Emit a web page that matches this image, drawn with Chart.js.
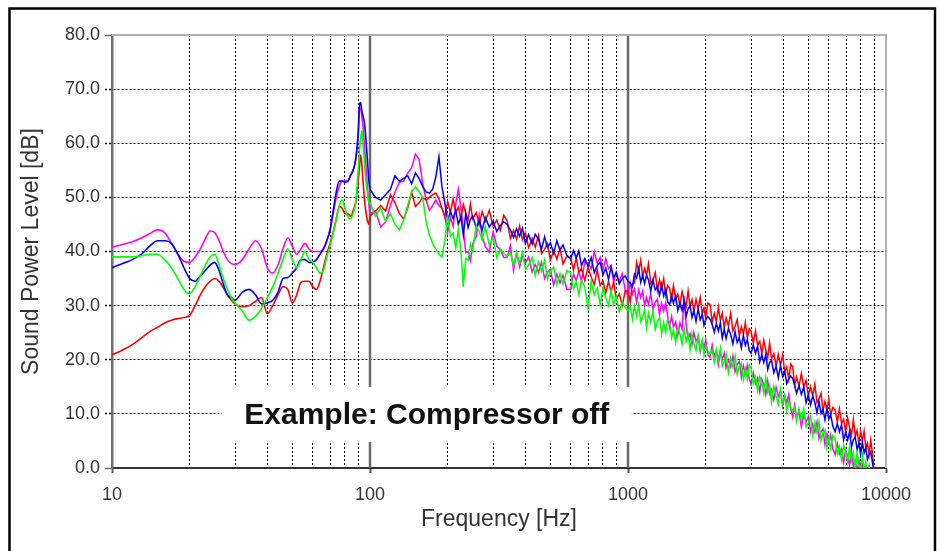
<!DOCTYPE html>
<html>
<head>
<meta charset="utf-8">
<title>Sound Power Level</title>
<script src="https://cdn.jsdelivr.net/npm/chart.js@4.4.1/dist/chart.umd.min.js"></script>
<style>
  html, body { margin: 0; padding: 0; background: #fff; }
  canvas { display: block; }
</style>
</head>
<body>
<canvas id="myChart" width="940" height="551"></canvas>
<script>
'use strict';
// data, one row of the freqs array per line

const freqs = [
  10, 11, 12, 13, 14, 15, 16, 17, 18, 19,
  20, 21, 22, 23, 24, 25, 26, 27, 28, 29,
  30, 32, 34, 36, 38, 40, 42, 44, 46, 48,
  50, 52, 54, 56, 58, 60, 62, 64, 66, 68,
  70, 72, 74, 76, 78, 80, 82, 84, 86, 88,
  90, 91, 92, 93, 94, 95, 96, 97, 98, 99,
  100, 105, 110, 115, 120, 125, 130, 135, 140, 145,
  150, 155, 160, 165, 170, 175, 180, 185, 190, 195,
  200, 205, 210, 215, 220, 225, 230, 235, 240, 245, 250, 258, 265, 272, 280, 290, 300, 310, 320, 330,
  340, 350, 360, 370, 380, 390, 400, 412, 425, 437, 450, 462, 475, 487, 500, 515, 530, 545, 560, 580,
  600, 615, 630, 645, 660, 680, 700, 720, 740, 760, 780, 800, 820, 840, 860, 880, 900, 925, 950, 975,
  1000, 1020, 1040, 1060, 1080, 1100, 1120, 1140, 1160, 1180, 1200, 1225, 1250, 1275, 1300, 1325, 1350, 1375, 1400, 1425,
  1450, 1475, 1500, 1530, 1560, 1590, 1620, 1650, 1680, 1710, 1740, 1770, 1800, 1835, 1870, 1905, 1940, 1970, 2000, 2040,
  2080, 2120, 2160, 2200, 2240, 2280, 2320, 2360, 2400, 2450, 2500, 2550, 2600, 2650, 2700, 2750, 2800, 2850, 2900, 2950,
  3000, 3060, 3120, 3180, 3240, 3300, 3360, 3420, 3480, 3540, 3600, 3675, 3750, 3825, 3900, 3975, 4050, 4125, 4200, 4275,
  4350, 4425, 4500, 4600, 4700, 4800, 4900, 5000, 5100, 5200, 5300, 5400, 5500, 5600, 5700, 5800, 5900, 6000, 6100, 6225,
  6350, 6475, 6600, 6725, 6850, 6975, 7100, 7225, 7350, 7475, 7600, 7725, 7850, 7975, 8100, 8225, 8350, 8475, 8600, 8725,
  8850, 9000
];

const magentaDb = [
  40.8, 41.3, 41.8, 42.5, 43.3, 44, 43.5, 41.5, 39.5, 38.2,
  38, 39, 40.5, 42.3, 43.8, 43.5, 42, 40, 38.5, 37.8,
  37.6, 38.5, 40.5, 42, 40.5, 37, 36, 37.5, 40.5, 42.5,
  41, 39.5, 40.5, 41.5, 40.5, 40, 40, 40, 40.5, 42,
  44, 47, 50, 52, 53, 53, 53, 54, 55, 57,
  61, 66, 66.5, 65, 63, 60, 57, 54, 51, 49,
  47, 47.5, 44.5, 45.5, 48.5, 51, 52.8, 53, 54.5, 55.5,
  58, 57, 52.6, 49.5, 47.6, 48.5, 49.5, 48.5, 48, 46.5,
  43.5, 46.3, 44.6, 48.8, 51.5, 48.1, 44.3, 39.8, 40.0, 38.3, 41.4, 42.7, 46.7, 42.8, 40.9, 39.9, 43.7, 41.0, 40.4, 38.9,
  38.9, 41.1, 36.5, 39.8, 37.1, 39.3, 37.9, 39.0, 36.2, 37.6, 36.1, 38.0, 35.0, 36.2, 36.7, 33.8, 35.8, 34.2, 35.6, 33.0,
  33.0, 35.8, 34.6, 36.3, 34.5, 38.1, 37.8, 36.8, 40.0, 37.8, 38.9, 36.7, 38.7, 36.8, 37.4, 34.4, 36.2, 34.5, 35.9, 32.9,
  31.9, 34.2, 32.1, 33.1, 30.6, 32.9, 31.5, 32.7, 30.0, 31.5, 30.2, 32.2, 29.3, 30.6, 31.2, 28.3, 30.4, 29.0, 30.5, 28.0,
  26.0, 28.0, 26.1, 27.0, 24.5, 26.8, 25.7, 31.8, 26.4, 23.9, 24.8, 22.8, 25.0, 23.4, 24.2, 21.5, 23.5, 22.0, 23.7, 20.9,
  20.4, 22.7, 20.6, 21.6, 19.1, 21.4, 20.0, 21.2, 18.5, 20.0, 18.7, 20.7, 17.8, 19.1, 19.7, 16.8, 18.9, 17.5, 19.0, 16.5,
  15.5, 17.6, 15.6, 16.6, 14.1, 16.4, 15.4, 13.6, 16.1, 13.7, 14.5, 12.6, 14.9, 13.2, 14.1, 11.4, 13.4, 12.0, 13.6, 10.9,
  9.4, 11.6, 9.4, 10.3, 7.6, 9.8, 8.4, 9.5, 6.7, 8.1, 6.6, 8.5, 5.5, 6.7, 7.2, 4.3, 6.3, 4.7, 6.1, 3.5,
  2.5, 4.5, 2.6, 3.5, 1.0, 3.3, 2.2, 0.5, 2.9, 0.4, 1.3, -0.7, 1.5, -0.1, 0.7, -2.1, 0, -1.5, 0.2, -2.6,
  -3, -4
];

const blueDb = [
  37, 37.8, 38.5, 39.5, 41, 42, 42, 41.5, 39.5, 37,
  35, 34.5, 35.5, 36.5, 37.5, 38, 36.5, 34, 32, 31.5,
  31, 32.5, 33, 32, 30.3, 30.5, 31, 32.5, 35, 35.2,
  36, 37, 38.5, 38.5, 38, 38, 38.5, 39.5, 40.5, 42,
  44, 47.5, 51, 53, 53, 52.8, 53, 54, 55, 57,
  62, 67, 67.5, 66, 65, 64, 62, 59, 56, 53,
  51.5, 50, 49.5, 50.5, 51.5, 54, 53, 53.5, 54, 52.5,
  54.5, 53.5, 52, 51, 50.8, 51.5, 53.8, 57.5, 52, 49,
  45.7, 47.4, 46.1, 47.6, 45.0, 46.5, 43.0, 47.0, 44.4, 45.9, 46.6, 44.4, 45.8, 43.9, 46.3, 44.5, 45.6, 43.7, 44.8, 45.5,
  45.0, 44.0, 42.6, 44.2, 42.8, 44.3, 41.5, 43.1, 41.4, 43.2, 42.2, 40.4, 42.7, 40.7, 41.6, 39.7, 42.0, 40.2, 41.2, 39.2,
  38.7, 40.2, 38.8, 40.1, 37.4, 38.7, 37.3, 38.9, 36.1, 37.4, 38.0, 35.7, 36.9, 34.9, 37.1, 35.2, 36.1, 34.0, 35.0, 35.5,
  34.5, 34.2, 33.5, 35.8, 35.1, 36.8, 34.3, 35.6, 34.1, 35.6, 34.8, 32.7, 34.7, 32.9, 33.5, 31.9, 33.9, 31.8, 33.0, 30.7,
  30.2, 31.8, 30.4, 31.8, 29.1, 30.5, 29.1, 30.7, 28.0, 29.4, 30.0, 27.8, 29.1, 27.1, 29.4, 27.4, 28.4, 26.4, 27.4, 28.0,
  27.5, 26.5, 25.1, 26.7, 25.3, 26.8, 24.0, 25.6, 23.9, 25.7, 24.7, 22.9, 25.2, 23.2, 24.1, 22.2, 24.5, 22.7, 23.7, 21.7,
  21.2, 22.7, 21.2, 22.5, 19.6, 20.9, 19.5, 21.0, 18.2, 19.5, 19.9, 17.6, 18.8, 16.7, 18.9, 16.9, 17.8, 15.6, 16.5, 17.0,
  16.5, 15.3, 13.8, 15.2, 13.6, 15.0, 12.1, 13.5, 11.7, 13.3, 12.1, 10.2, 12.3, 10.1, 10.8, 8.9, 11.0, 9.0, 9.9, 7.7,
  6.7, 8.2, 6.7, 8.0, 5.2, 6.6, 5.2, 6.7, 3.9, 5.2, 5.7, 3.4, 4.6, 2.5, 4.8, 2.8, 3.7, 1.6, 2.5, 3.0,
  1.2, -1
];

const redDb = [
  20.9, 21.8, 22.8, 24, 25.2, 26, 26.8, 27.3, 27.6, 27.8,
  28.2, 30, 32, 33.5, 34.5, 35, 34.5, 33.3, 32, 31,
  30.3, 29.8, 30, 30.8, 31.5, 28.5, 30, 32, 33.5, 33,
  30.5, 32, 34.3, 34.5, 34.5, 33.5, 33, 34.5, 37, 39.5,
  41.5, 43.5, 46, 48.3, 48, 47, 47, 46.5, 47.5, 49,
  53, 55.5, 57.8, 56, 53, 50, 48, 46.5, 45.5, 45,
  46.5, 47.5, 48.5, 47.5, 50.5, 49, 47, 46, 48, 51,
  48.3, 49, 50, 49.5, 50, 50.5, 50.8, 49.8, 48, 46.4,
  49.2, 47.2, 49.7, 47.2, 48.2, 46.0, 48.7, 47.1, 45.8, 48.8, 46.0, 47.2, 45.0, 47.4, 45.6, 47.6, 44.7, 45.8, 43.9, 46.7,
  45.7, 42.4, 43.9, 42.3, 44.7, 42.2, 43.5, 40.7, 42.4, 40.8, 43.0, 39.6, 40.4, 41.5, 38.4, 40.1, 38.6, 40.6, 37.7, 39.2,
  38.7, 36.6, 38.8, 36.2, 36.9, 34.6, 37.1, 35.3, 33.9, 36.6, 33.7, 34.6, 32.3, 34.5, 32.5, 34.4, 31.2, 32.2, 30.0, 32.7,
  32.7, 30.7, 34.0, 34.2, 38.0, 36.3, 38.4, 35.4, 36.9, 35.6, 37.7, 34.1, 34.7, 36.1, 32.8, 34.8, 33.2, 35.0, 31.9, 33.7,
  33.2, 31.2, 33.7, 31.2, 32.1, 30.0, 32.6, 31.0, 29.8, 32.7, 29.9, 31.1, 28.9, 31.2, 29.4, 31.5, 28.5, 29.6, 27.7, 30.5,
  30.2, 27.0, 28.6, 27.1, 29.7, 27.3, 28.6, 25.9, 27.7, 26.2, 28.6, 25.3, 26.2, 27.4, 24.4, 26.1, 24.8, 26.9, 24.1, 25.7,
  25.2, 23.1, 25.3, 22.7, 23.4, 21.1, 23.6, 21.8, 20.4, 23.1, 20.2, 21.1, 18.8, 21.0, 19.0, 20.9, 17.7, 18.7, 16.5, 19.2,
  18.7, 15.3, 16.8, 15.1, 17.5, 15.0, 16.2, 13.3, 15.0, 13.3, 15.5, 12.1, 12.8, 13.8, 10.6, 12.3, 10.8, 12.7, 9.8, 11.2,
  10.7, 8.6, 10.9, 8.3, 9.0, 6.7, 9.2, 7.5, 6.1, 8.9, 5.9, 6.9, 4.6, 6.8, 4.9, 6.8, 3.7, 4.6, 2.5, 5.2,
  3, -0.5
];

const greenDb = [
  39, 39, 39, 39.2, 39.5, 39.5, 38.5, 37, 35, 33,
  32.2, 33.5, 35.5, 37.5, 39, 39.5, 37.5, 35, 33, 31.5,
  30.5, 29, 27.3, 28, 29.5, 31.5, 33.5, 36, 38.5, 40.5,
  38.5, 37, 38.5, 40, 38.5, 38, 37, 36, 36.5, 39,
  41, 43.5, 46, 48.5, 49.5, 48, 46.5, 46, 47, 49,
  55, 58.5, 61, 62.3, 60, 57, 54, 52, 50.5, 49,
  49, 46.5, 48, 45.5, 47, 45, 44, 45.8, 48.5, 51,
  52, 51, 50, 45.5, 43, 41.5, 40.5, 39.5, 39, 42,
  46.5, 42.8, 43.4, 40.7, 44.1, 40.2, 33.5, 38.7, 38.4, 41.4, 40.1, 44.8, 43.7, 42.1, 44.6, 41.2, 42.5, 38.9, 40.5, 39.6,
  39.1, 39.8, 37.4, 39.8, 37.8, 39.9, 36.7, 37.5, 38.9, 35.5, 38.0, 36.3, 38.4, 34.9, 36.4, 37.1, 33.9, 35.9, 34.0, 36.5,
  36.0, 33.1, 34.4, 32.0, 34.7, 33.5, 29.5, 34.5, 32.0, 33.3, 30.2, 33.2, 31.4, 30.0, 32.8, 30.2, 31.7, 28.9, 30.7, 29.6,
  29.1, 29.8, 27.5, 30.0, 28.0, 30.2, 27.0, 27.9, 29.3, 25.9, 28.6, 26.9, 29.0, 25.6, 27.1, 27.8, 24.8, 26.8, 25.0, 27.5,
  27.0, 24.1, 25.5, 23.2, 25.9, 24.8, 22.9, 25.9, 23.4, 24.7, 21.8, 24.8, 23.0, 21.7, 24.5, 21.9, 23.6, 20.8, 22.7, 21.6,
  21.1, 21.8, 19.5, 21.9, 19.9, 22.1, 18.8, 19.7, 21.1, 17.7, 20.3, 18.6, 20.7, 17.3, 18.8, 19.4, 16.3, 18.3, 16.5, 19.0,
  18.5, 15.5, 16.8, 14.3, 16.9, 15.8, 13.8, 16.7, 14.1, 15.3, 12.2, 15.1, 13.2, 11.8, 14.6, 11.9, 13.4, 10.5, 12.3, 11.1,
  10.6, 11.2, 8.7, 11.0, 8.8, 10.9, 7.6, 8.3, 9.6, 6.0, 8.5, 6.6, 8.6, 5.1, 6.4, 7.0, 3.7, 5.6, 3.6, 6.0,
  5.5, 2.6, 3.9, 1.5, 4.2, 3.0, 1.1, 4.0, 1.5, 2.8, -0.3, 2.7, 0.9, -0.5, 2.3, -0.4, 1.2, -1.6, 0.2, -0.9,
  -1.5, -2.5
];

// grid lines of the log axis, labels only on the decades
const xTicks = [
  10, 20, 30, 40, 50, 60, 70, 80, 90,
  100, 200, 300, 400, 500, 600, 700, 800, 900,
  1000, 2000, 3000, 4000, 5000, 6000, 7000, 8000, 9000,
  10000
];
const xLabels = [10, 100, 1000, 10000];
const decadeLines = [100, 1000];

// below this the curves are smooth, above it they are noisy
const smoothUpTo = 100;

const noteText = 'Example: Compressor off';
const noteFreq = 166;
const noteDb = 10;

function toPoints(values, fromHz, toHz) {
  let points = [];
  for (let i = 0; i < freqs.length; i++) {
    if (freqs[i] >= fromHz && freqs[i] <= toHz) {
      points.push({x: freqs[i], y: values[i]});
    }
  }
  return points;
}

// one smooth piece and one jagged piece per curve
function makeSeries(values, color) {
  let smooth = {
    data: toPoints(values, 0, smoothUpTo),
    borderColor: color,
    borderWidth: 1.6,
    pointRadius: 0,
    fill: false,
    cubicInterpolationMode: 'monotone'
  };
  let noisy = {
    data: toPoints(values, smoothUpTo, Infinity),
    borderColor: color,
    borderWidth: 1.5,
    pointRadius: 0,
    fill: false,
    tension: 0
  };
  return [noisy, smooth];
}

function isDecade(v) {
  return xLabels.includes(v);
}

// decade lines, the white note box and the frames
const decorations = {
  id: 'decorations',
  beforeDatasetsDraw(chart) {
    const ctx = chart.ctx;
    const area = chart.chartArea;
    const x = chart.scales.x;
    const y = chart.scales.y;
    ctx.save();

    ctx.strokeStyle = '#6a6a6a';
    ctx.lineWidth = 2.5;
    decadeLines.forEach(function (f) {
      let px = Math.round(x.getPixelForValue(f));
      ctx.beginPath();
      ctx.moveTo(px, area.top);
      ctx.lineTo(px, area.bottom);
      ctx.stroke();
    });

    ctx.strokeStyle = '#b0b0b0';
    ctx.lineWidth = 2;
    ctx.beginPath();
    ctx.moveTo(area.left, area.top);
    ctx.lineTo(area.right, area.top);
    ctx.lineTo(area.right, area.bottom);
    ctx.stroke();

    let cx = x.getPixelForValue(noteFreq);
    let cy = y.getPixelForValue(noteDb);
    ctx.fillStyle = '#fff';
    ctx.fillRect(cx - 205, cy - 27, 410, 55);
    ctx.fillStyle = '#111';
    ctx.font = 'bold 30px Arial, "Liberation Sans", sans-serif';
    ctx.textAlign = 'center';
    ctx.textBaseline = 'middle';
    ctx.fillText(noteText, cx, cy + 2);
    ctx.restore();
  },
  afterDraw(chart) {
    const ctx = chart.ctx;
    ctx.save();
    ctx.strokeStyle = '#000';
    ctx.lineWidth = 2.5;
    ctx.strokeRect(9.5, 8.5, 925.5, 600);
    ctx.restore();
  }
};

Chart.defaults.font.family = 'Arial, "Liberation Sans", sans-serif';
Chart.defaults.color = '#333';

const config = {
  type: 'line',
  data: {
    // first dataset ends up on top
    datasets: [].concat(
      makeSeries(greenDb, '#00ff00'),
      makeSeries(blueDb, '#0000ff'),
      makeSeries(redDb, '#ff0000'),
      makeSeries(magentaDb, '#ff00ff')
    )
  },
  options: {
    responsive: false,
    animation: false,
    devicePixelRatio: 1,
    layout: { padding: { top: 35, right: 54, bottom: 0, left: 0 } },
    plugins: {
      legend: { display: false },
      tooltip: { enabled: false }
    },
    scales: {
      x: {
        type: 'logarithmic',
        min: 10,
        max: 10000,
        afterBuildTicks: function (scale) {
          scale.ticks = xTicks.map(function (v) { return {value: v, major: isDecade(v)}; });
        },
        afterFit: function (scale) { scale.height = 83; },
        ticks: {
          autoSkip: false,
          maxRotation: 0,
          padding: 11,
          font: { size: 18 },
          color: '#333',
          callback: function (value) { return isDecade(value) ? String(value) : ''; }
        },
        grid: {
          color: function (c) { return (c.tick && isDecade(c.tick.value)) ? 'rgba(0,0,0,0)' : '#000'; },
          lineWidth: 1,
          tickLength: 5,
          tickWidth: 2,
          tickColor: function (c) { return (c.tick && isDecade(c.tick.value)) ? '#555' : 'rgba(0,0,0,0)'; }
        },
        border: { color: '#333', width: 2, dash: [2, 2] },
        title: {
          display: true,
          text: 'Frequency [Hz]',
          color: '#333',
          font: { size: 23 },
          padding: { top: 0, bottom: 18 }
        }
      },
      y: {
        min: 0,
        max: 80,
        afterFit: function (scale) { scale.width = 112; },
        ticks: {
          stepSize: 10,
          padding: 5,
          font: { size: 18 },
          color: '#333',
          callback: function (value) { return Number(value).toFixed(1); }
        },
        grid: {
          color: function (c) { return (c.tick && (c.tick.value === 0 || c.tick.value === 80)) ? 'rgba(0,0,0,0)' : '#000'; },
          lineWidth: 1,
          tickLength: 7,
          tickWidth: 1.5,
          tickColor: function (c) { return (c.tick && (c.tick.value === 0 || c.tick.value === 80)) ? '#666' : '#000'; },
          tickBorderDash: function (c) { return (c.tick && (c.tick.value === 0 || c.tick.value === 80)) ? [] : [2, 2]; }
        },
        border: { color: '#707070', width: 2.5, dash: [2, 2] },
        title: {
          display: true,
          text: 'Sound Power Level [dB]',
          color: '#333',
          font: { size: 23 },
          padding: { top: 18, bottom: 0 }
        }
      }
    }
  },
  plugins: [decorations]
};

const chart = document.getElementById('myChart');
const myChart = new Chart(chart, config);
</script>
</body>
</html>
